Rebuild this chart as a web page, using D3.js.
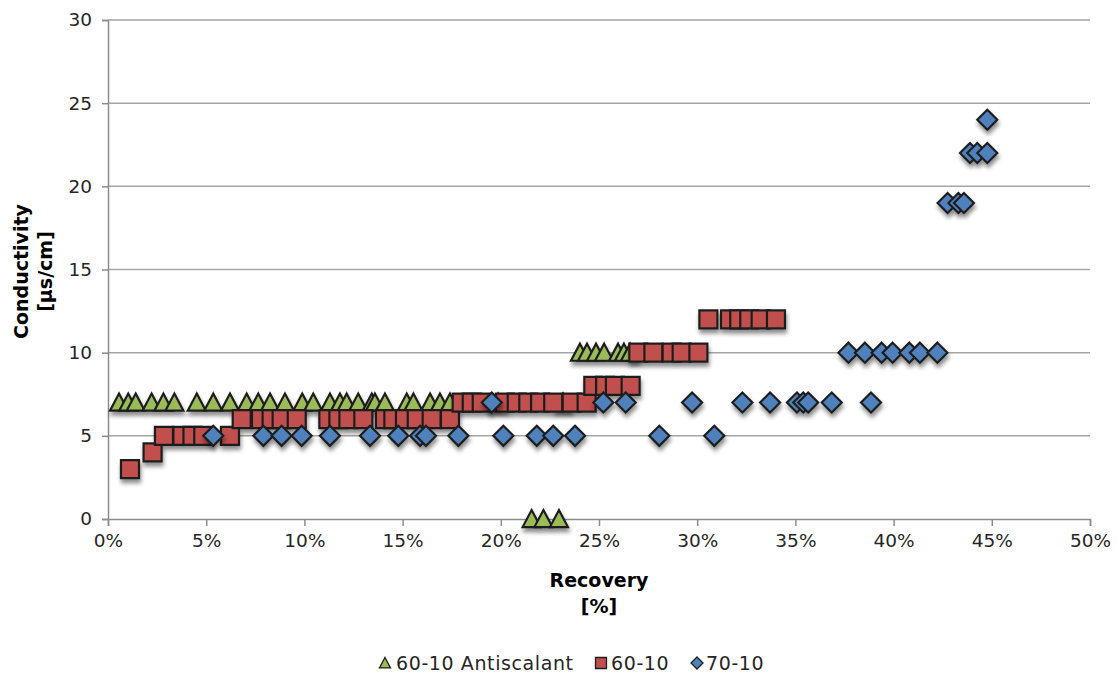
<!DOCTYPE html>
<html>
<head>
<meta charset="utf-8">
<script src="https://cdn.jsdelivr.net/npm/d3@7/dist/d3.min.js"></script>
<style>
  html, body { margin: 0; padding: 0; background: #fff; }
  svg { display: block; font-family: "DejaVu Sans", sans-serif; }
</style>
</head>
<body>
<svg id="chart" width="1118" height="680"></svg>
<script>
// Recovery (%) and conductivity (µs/cm) per test series
const antiscalantX = [0.56, 1.03, 1.41, 2.22, 2.82, 3.38, 4.52, 5.36, 6.21, 7.06, 7.65, 8.25, 9.01, 9.89,
  10.45, 11.30, 11.81, 12.15, 12.74, 13.43, 13.59, 14.10, 15.21, 15.55, 16.40, 16.90, 17.41, 19.86, 23.17,
  24.03, 24.39, 24.85, 25.26, 25.97, 26.27, 26.58,
  21.57, 22.17, 22.96];
const antiscalantY = [7, 7, 7, 7, 7, 7, 7, 7, 7, 7, 7, 7, 7, 7,
  7, 7, 7, 7, 7, 7, 7, 7, 7, 7, 7, 7, 7, 7, 7,
  10, 10, 10, 10, 10, 10, 10,
  0, 0, 0];

const series6010X = [1.12, 2.27, 2.85, 3.79, 4.30, 4.85, 6.21,
  6.81, 7.79, 8.33, 8.84, 9.61, 11.22, 11.73, 12.24, 13.00, 14.10, 14.53, 15.12, 15.72, 16.48, 17.41,
  18.01, 18.52, 19.03, 20.21, 20.81, 21.40, 22.00, 22.67, 23.61, 24.37,
  24.71, 25.31, 25.81, 26.61,
  27.00, 27.77, 28.70, 29.21, 30.06,
  30.57, 31.67, 32.14, 32.65, 33.23, 34.01];
const series6010Y = [3, 4, 5, 5, 5, 5, 5,
  6, 6, 6, 6, 6, 6, 6, 6, 6, 6, 6, 6, 6, 6, 6,
  7, 7, 7, 7, 7, 7, 7, 7, 7, 7,
  8, 8, 8, 8,
  10, 10, 10, 10, 10,
  12, 12, 12, 12, 12, 12];

const series7010X = [5.36, 7.91, 8.84, 9.86, 11.30, 13.34, 14.78, 15.89, 16.19, 17.84, 20.13, 21.83, 22.67, 23.78, 28.07, 30.87,
  19.54, 25.22, 26.36, 29.74, 32.30, 33.71, 35.08, 35.40, 35.65, 36.85, 38.85,
  37.70, 38.54, 39.39, 39.95, 40.80, 41.34, 42.23,
  42.75, 43.30, 43.58,
  43.89, 44.26, 44.77,
  44.77];
const series7010Y = [5, 5, 5, 5, 5, 5, 5, 5, 5, 5, 5, 5, 5, 5, 5, 5,
  7, 7, 7, 7, 7, 7, 7, 7, 7, 7, 7,
  10, 10, 10, 10, 10, 10, 10,
  19, 19, 19,
  22, 22, 22,
  24];

const xTicks = [0, 5, 10, 15, 20, 25, 30, 35, 40, 45, 50];
const yTicks = [0, 5, 10, 15, 20, 25, 30];
const seriesNames = ["60-10 Antiscalant", "60-10", "70-10"];

const svg = d3.select("#chart");
const plot = { left: 108, right: 1090, top: 20, bottom: 519 };

const x = d3.scaleLinear().domain([0, 50]).range([plot.left, plot.right]);
const y = d3.scaleLinear().domain([0, 30]).range([plot.bottom, plot.top]);

const gridColor = "#a6a6a6";
const axisColor = "#8c8c8c";
const textColor = "#262626";

// Soft drop shadow under the markers
const defs = svg.append("defs");
const f = defs.append("filter").attr("id", "shadow")
  .attr("x", "-60%").attr("y", "-60%").attr("width", "220%").attr("height", "240%");
f.append("feDropShadow").attr("dx", 1).attr("dy", 4).attr("stdDeviation", 2.2)
  .attr("flood-color", "#000").attr("flood-opacity", 0.45);

// Horizontal gridlines
svg.append("g").selectAll("line").data(yTicks.filter(d => d > 0)).join("line")
  .attr("x1", plot.left).attr("x2", plot.right)
  .attr("y1", d => y(d)).attr("y2", d => y(d))
  .attr("stroke", gridColor).attr("stroke-width", 1.5);

// Y axis
const yAxis = svg.append("g").attr("transform", `translate(${plot.left},0)`)
  .call(d3.axisLeft(y).tickValues(yTicks).tickSize(6).tickPadding(10).tickFormat(d3.format("d")));
yAxis.select(".domain").attr("stroke", axisColor).attr("stroke-width", 1.5);
yAxis.selectAll(".tick line").attr("stroke", axisColor).attr("stroke-width", 1.5);
yAxis.selectAll(".tick text").attr("fill", textColor).attr("font-size", 18.5)
  .attr("font-family", "DejaVu Sans, sans-serif");

// X axis
const xAxis = svg.append("g").attr("transform", `translate(0,${plot.bottom})`)
  .call(d3.axisBottom(x).tickValues(xTicks).tickSize(7).tickPadding(8).tickFormat(d => d + "%"));
xAxis.select(".domain").attr("stroke", axisColor).attr("stroke-width", 1.5);
xAxis.selectAll(".tick line").attr("stroke", axisColor).attr("stroke-width", 1.5);
xAxis.selectAll(".tick text").attr("fill", textColor).attr("font-size", 18.5)
  .attr("font-family", "DejaVu Sans, sans-serif");

// Axis titles
const yTitle = svg.append("text")
  .attr("transform", `translate(28,${(plot.top + plot.bottom) / 2 + 2}) rotate(-90)`)
  .attr("text-anchor", "middle").attr("font-weight", "bold").attr("font-size", 19).attr("fill", "#000");
yTitle.append("tspan").attr("x", 0).attr("dy", 0).text("Conductivity");
yTitle.append("tspan").attr("x", 0).attr("dy", 24).text("[µs/cm]");

const xTitle = svg.append("text")
  .attr("text-anchor", "middle").attr("font-weight", "bold").attr("font-size", 19).attr("fill", "#000");
xTitle.append("tspan").attr("x", 599).attr("y", 587).text("Recovery");
xTitle.append("tspan").attr("x", 599).attr("y", 613).text("[%]");

// Marker shapes
const tri = s => `M0,${-s * 0.5}L${s * 0.5},${s * 0.45}L${-s * 0.5},${s * 0.45}Z`;
const sq = s => `M${-s / 2},${-s / 2}h${s}v${s}h${-s}Z`;
const dia = s => `M0,${-s / 2}L${s / 2},0L0,${s / 2}L${-s / 2},0Z`;

const series = [
  { name: seriesNames[0], xs: antiscalantX, ys: antiscalantY, fill: "#9bbb59", shape: tri, size: 18 },
  { name: seriesNames[1], xs: series6010X, ys: series6010Y, fill: "#c0504d", shape: sq, size: 18 },
  { name: seriesNames[2], xs: series7010X, ys: series7010Y, fill: "#4f81bd", shape: dia, size: 20 }
];

series.forEach(s => {
  const pts = s.xs.map((v, i) => [v, s.ys[i]]);
  svg.append("g").attr("filter", "url(#shadow)")
    .selectAll("path").data(pts).join("path")
    .attr("transform", d => `translate(${x(d[0])},${y(d[1])})`)
    .attr("d", s.shape(s.size))
    .attr("fill", s.fill).attr("stroke", "#1f1f1f").attr("stroke-width", 2.2)
    .attr("stroke-linejoin", "miter");
});

// Legend
const legendItems = [
  { idx: 0, mx: 385, tx: 396, sz: 11 },
  { idx: 1, mx: 601, tx: 611, sz: 11 },
  { idx: 2, mx: 697, tx: 706, sz: 12 }
];
const legendY = 664;
legendItems.forEach(li => {
  const s = series[li.idx];
  svg.append("path")
    .attr("transform", `translate(${li.mx},${legendY - 1})`)
    .attr("d", s.shape(li.sz))
    .attr("fill", s.fill).attr("stroke", "#1f1f1f").attr("stroke-width", 1.3);
  svg.append("text").attr("x", li.tx).attr("y", legendY + 6)
    .attr("font-size", 19).attr("letter-spacing", 0.6).attr("fill", textColor).text(s.name);
});
</script>
</body>
</html>
